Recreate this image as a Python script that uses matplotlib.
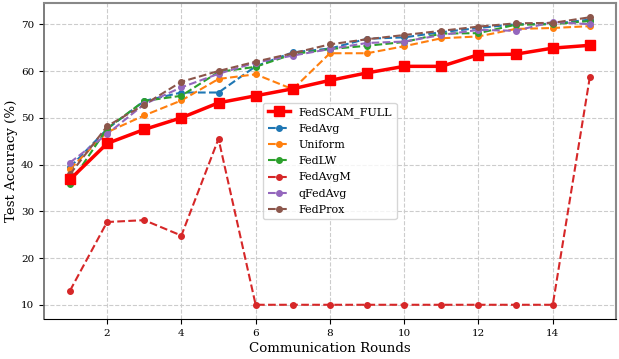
import matplotlib
matplotlib.use("Agg")
import matplotlib.pyplot as plt
import numpy as np

rounds = list(range(1, 16))
fedscam = [36.8, 44.5, 47.5, 50.0, 53.2, 54.7, 56.2, 58.0, 59.6, 61.0, 61.0, 63.5, 63.6, 64.9, 65.5]
fedavg = [39.4, 47.6, 53.6, 55.4, 55.4, 61.0, 64.0, 64.8, 66.9, 67.2, 68.3, 69.2, 70.0, 70.1, 71.0]
uniform = [39.0, 46.9, 50.5, 53.7, 58.3, 59.3, 56.1, 63.8, 63.8, 65.3, 67.0, 67.4, 69.0, 69.2, 69.6]
fedlw = [35.9, 47.7, 53.6, 54.7, 59.8, 60.9, 63.6, 64.7, 65.4, 66.2, 68.0, 68.1, 69.9, 70.0, 70.7]
fedavgm = [13.0, 27.7, 28.1, 24.8, 45.5, 10.0, 10.0, 10.0, 10.0, 10.0, 10.0, 10.0, 10.0, 10.0, 58.8]
qfedavg = [40.4, 46.5, 52.9, 56.5, 59.4, 61.8, 63.3, 64.7, 66.0, 66.3, 67.7, 68.8, 68.6, 70.5, 70.0]
fedprox = [37.9, 48.2, 52.8, 57.7, 60.0, 62.0, 63.8, 65.7, 66.8, 67.7, 68.6, 69.5, 70.2, 70.3, 71.5]

plt.rcParams['font.family'] = ['DejaVu Serif']

fig, ax = plt.subplots(figsize=(6.19, 3.59), dpi=100)
ax.plot(rounds, fedscam, color='red', marker='s', lw=2.5, ms=7, label='FedSCAM_FULL', zorder=5)
others = [(fedavg, 'FedAvg', 'tab:blue'), (uniform, 'Uniform', 'tab:orange'),
          (fedlw, 'FedLW', 'tab:green'), (fedavgm, 'FedAvgM', 'tab:red'),
          (qfedavg, 'qFedAvg', 'tab:purple'), (fedprox, 'FedProx', 'tab:brown')]
for vals, name, c in others:
    ax.plot(rounds, vals, color=c, ls='--', marker='o', lw=1.5, ms=4, label=name)

ax.set_xlabel('Communication Rounds', fontsize=9.6, labelpad=3)
ax.set_ylabel('Test Accuracy (%)', fontsize=9.6, labelpad=2)
ax.tick_params(labelsize=7.5)
ax.grid(True, ls='--', color='#cccccc', lw=0.8)
ax.set_xticks([2, 4, 6, 8, 10, 12, 14])
for s in ['top', 'right']:
    ax.spines[s].set_color('#888888')
    ax.spines[s].set_linewidth(1.5)
for s in ['left']:
    ax.spines[s].set_color('#666666')
    ax.spines[s].set_linewidth(1.2)
ax.legend(loc='center', fontsize=8, labelspacing=0.55)
fig.subplots_adjust(left=0.071, right=0.995, top=0.992, bottom=0.111)
fig.savefig('out.png', dpi=100)
